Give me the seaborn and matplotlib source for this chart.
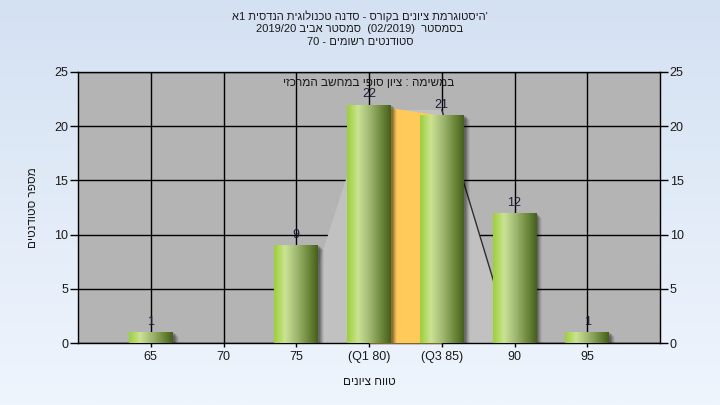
import re
import numpy as np
import pandas as pd
import matplotlib
matplotlib.use("Agg")
import matplotlib.pyplot as plt
import matplotlib.transforms as mtransforms
from matplotlib.patches import Rectangle
from matplotlib.colors import LinearSegmentedColormap
import seaborn as sns

# ---------------- data ----------------
categories = ["65", "70", "75", "(Q1 80)", "(Q3 85)", "90", "95"]
counts = [1, 0, 9, 22, 21, 12, 1]
yticks = [0, 5, 10, 15, 20, 25]
# light grey distribution band behind the bars (category-index units, counts)
curve_x = [1.96, 2.99, 4.0, 4.97]
curve_y = [0, 21.5, 21.5, 0]
iqr_idx = [3, 4]

title_lines = [
    "'היסטוגרמת ציונים בקורס - סדנה טכנולוגית הנדסית 1א",
    "בסמסטר  (02/2019)  סמסטר אביב 2019/20",
    "סטודנטים רשומים - 70",
]
xlabel = "טווח ציונים"
ylabel = "מספר סטודנטים"
note = "במשימה : ציון סופי במחשב המרכזי"


def vis(s):
    """Simple RTL -> visual order conversion (keeps LTR runs intact)."""
    tokens = re.findall(r"[0-9A-Za-z/.]+|.", s)
    mirror = {"(": ")", ")": "("}
    return "".join(mirror.get(t, t) for t in tokens[::-1])


sns.set_style("white")
plt.rcParams["font.family"] = ["Liberation Sans", "DejaVu Sans"]
plt.rcParams["font.size"] = 9

fig = plt.figure(figsize=(7.2, 4.05), dpi=100)

# figure background gradient
bg = fig.add_axes([0, 0, 1, 1], zorder=-10)
bg_cmap = LinearSegmentedColormap.from_list("bg", ["#EFF5FD", "#D4E1F2"])
bg.imshow(np.linspace(0, 1, 256).reshape(-1, 1)[::-1], aspect="auto",
          cmap=bg_cmap, extent=[0, 1, 0, 1])
bg.set_axis_off()

ax = fig.add_axes([78 / 720, 62 / 405, 582 / 720, 271 / 405])
ax.set_facecolor("#B4B4B4")

df = pd.DataFrame({"grade": categories, "count": counts})
sns.barplot(data=df, x="grade", y="count", order=categories, width=0.6,
            color="#9ACD3C", ax=ax, linewidth=0, zorder=5, saturation=1)
bars = list(ax.patches)

ax.set_xlim(-1, 7)
ax.set_ylim(0, 25)

# grid
ax.set_axisbelow(True)
ax.grid(True, color="black", lw=1.0)
ax.set_yticks(yticks)
ax.set_xticks(range(len(categories)))
ax.set_xticklabels(categories)

# light grey band and orange IQR area
ax.fill(curve_x, curve_y, color="#C1C1C1", lw=0, zorder=2)
ax.plot(curve_x[2:], curve_y[2:], color="#2E2E2E", lw=1.0, zorder=2.5)
ax.fill_between(iqr_idx, [counts[i] for i in iqr_idx], 0,
                color="#FFCA5A", lw=0, zorder=3)

# bar gradients and shadows
bar_cmap = LinearSegmentedColormap.from_list(
    "bar", [(0.0, "#9CCF38"), (0.25, "#CBE393"), (0.5, "#A3BA75"),
            (0.78, "#6E8A3C"), (1.0, "#455F1C")])
grad = np.linspace(0, 1, 256).reshape(1, -1)
for p in bars:
    h = p.get_height()
    if h <= 0:
        continue
    x0, w = p.get_x(), p.get_width()
    for dx, dy, a in [(2, -1, 0.16), (3, -2, 0.14), (4, -3, 0.12), (5, -4, 0.08), (6, -5, 0.05)]:
        tr = mtransforms.offset_copy(ax.transData, fig=fig, x=dx, y=dy, units="dots")
        ax.add_patch(Rectangle((x0, 0), w, h, transform=tr, color="black",
                               alpha=a, lw=0, zorder=4, clip_on=True))
    im = ax.imshow(grad, extent=[x0, x0 + w, 0, h], aspect="auto",
                   cmap=bar_cmap, zorder=6, interpolation="bicubic")
    im.set_clip_path(p)
    ax.text(x0 + w / 2, h + 0.4, str(int(h)), ha="center", va="bottom",
            fontsize=9, color="#1C1C38", zorder=7)

ax.set_xlim(-1, 7)
ax.set_ylim(0, 25)

# note text inside the plot
ax.text(3, 24.0, vis(note), ha="center", va="center", fontsize=8.5,
        color="#1A1A1A", zorder=8)

# axes styling
for s in ax.spines.values():
    s.set_color("black")
    s.set_linewidth(1.0)
ax.tick_params(axis="y", direction="out", length=5.5, width=1, pad=1.5,
               colors="black", labelcolor="#1A1A1A", labelsize=9, left=True)
ax.tick_params(axis="x", direction="out", length=3, width=1, pad=3,
               colors="black", labelcolor="#1A1A1A", labelsize=9, bottom=True)
ax.set_xlabel(vis(xlabel), fontsize=8.5, labelpad=9, color="#1A1A1A")
ax.set_ylabel(vis(ylabel), fontsize=8.5, labelpad=11, color="#1A1A1A")

ax2 = ax.twinx()
ax2.set_ylim(0, 25)
ax2.set_yticks(yticks)
ax2.tick_params(axis="y", direction="out", length=5.5, width=1, pad=1.5,
                colors="black", labelcolor="#1A1A1A", labelsize=9, right=True)
for s in ax2.spines.values():
    s.set_visible(False)
ax2.grid(False)

# title
for i, line in enumerate(title_lines):
    fig.text(0.5, 1 - (16 + 13 * i) / 405, vis(line), ha="center",
             va="center", fontsize=8, color="#1A1A1A")

fig.savefig("out.png", dpi=100)
